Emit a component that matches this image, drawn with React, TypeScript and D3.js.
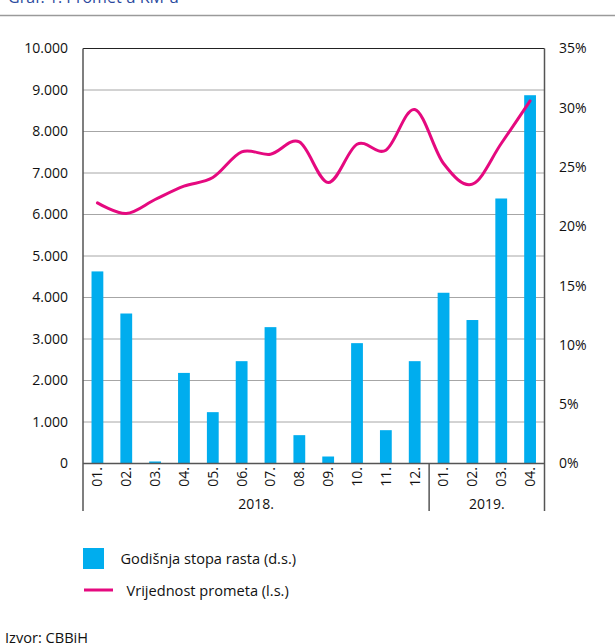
import React from "react";
import * as d3 from "d3";

const months = ["01.", "02.", "03.", "04.", "05.", "06.", "07.", "08.", "09.", "10.", "11.", "12.", "01.", "02.", "03.", "04."];
const years = [
  { label: "2018.", start: 0, end: 12 },
  { label: "2019.", start: 12, end: 16 },
];
// Godišnja stopa rasta (%), right axis
const growthRate = [16.2, 12.65, 0.17, 7.64, 4.33, 8.63, 11.5, 2.39, 0.59, 10.15, 2.81, 8.63, 14.4, 12.1, 22.35, 31.06];
// Vrijednost prometa, left axis
const turnover = [6280, 6024, 6361, 6682, 6891, 7508, 7453, 7749, 6771, 7694, 7550, 8530, 7229, 6730, 7711, 8738];
const leftTicks = [0, 1000, 2000, 3000, 4000, 5000, 6000, 7000, 8000, 9000, 10000];
const rightTicks = [0, 5, 10, 15, 20, 25, 30, 35];

const FONT = "'Open Sans', 'Noto Sans', sans-serif";
const BLUE = "#00ADEE";
const MAGENTA = "#E5097F";

export default function App() {
  const left = 83, right = 544.5, top = 48.5, bottom = 463.5;
  const yL = d3.scaleLinear().domain([0, 10000]).range([bottom, top]);
  const yR = d3.scaleLinear().domain([0, 35]).range([bottom, top]);
  const x = d3.scaleBand<number>().domain(d3.range(months.length)).range([left, right]);
  const step = x.step();
  const cx = (i: number) => (x(i) as number) + step / 2;
  const bw = 11.8;
  const line = d3.line<number>().x((_, i) => cx(i)).y((d) => yL(d)).curve(d3.curveCardinal.tension(0));
  const fmt = (v: number) => (v === 0 ? "0" : d3.format(",")(v).replace(/,/g, "."));

  return (
    <svg width={615} height={643} style={{ position: "absolute", top: 0, left: 0, fontFamily: FONT }}>
      <rect width={615} height={643} fill="#fff" />
      <text x={8} y={2.5} fontSize={16} fill="#2B4A9E" fontFamily={FONT}>Graf. 1: Promet u KM-u</text>
      <line x1={0} x2={615} y1={15.5} y2={15.5} stroke="#9a9a9a" strokeWidth={1.5} />

      {leftTicks.filter((t) => t > 0 && t < 10000).map((t) => (
        <line key={t} x1={left} x2={right} y1={yL(t)} y2={yL(t)} stroke="#a6a6a6" strokeWidth={1} />
      ))}

      {growthRate.map((v, i) => (
        <rect key={i} x={cx(i) - bw / 2} y={yR(v)} width={bw} height={bottom - yR(v)} fill={BLUE} />
      ))}

      <path d={line(turnover) || ""} fill="none" stroke={MAGENTA} strokeWidth={3} strokeLinejoin="round" strokeLinecap="round" />

      {/* frame */}
      <line x1={left} x2={right} y1={top} y2={top} stroke="#222" strokeWidth={1.2} />
      <line x1={left} x2={left} y1={top} y2={511} stroke="#555" strokeWidth={1.5} />
      <line x1={right} x2={right} y1={top} y2={511} stroke="#555" strokeWidth={1.5} />
      <line x1={left} x2={right} y1={bottom} y2={bottom} stroke="#555" strokeWidth={1.5} />
      {years.slice(1).map((y) => (
        <line key={y.label} x1={left + step * y.start} x2={left + step * y.start} y1={bottom} y2={511} stroke="#555" strokeWidth={1.5} />
      ))}

      {leftTicks.map((t) => (
        <text key={t} x={68} y={yL(t)} dy="0.35em" textAnchor="end" fontSize={14} fill="#111">{fmt(t)}</text>
      ))}
      {rightTicks.map((t) => (
        <text key={t} x={559} y={yR(t)} dy="0.35em" textAnchor="start" fontSize={14} fill="#111">{t}%</text>
      ))}

      {months.map((m, i) => (
        <text key={i} transform={`translate(${cx(i)},${467}) rotate(-90)`} dy="0.35em" textAnchor="end" fontSize={14} fill="#111">{m}</text>
      ))}
      {years.map((y) => (
        <text key={y.label} x={(left + step * y.start + left + step * y.end) / 2} y={509} textAnchor="middle" fontSize={14} fill="#111">{y.label}</text>
      ))}

      <rect x={83} y={548} width={21} height={21} fill={BLUE} />
      <text x={120.5} y={563.5} fontSize={14.6} fill="#111">Godišnja stopa rasta (d.s.)</text>
      <line x1={84} x2={113} y1={590} y2={590} stroke={MAGENTA} strokeWidth={3} />
      <text x={126.5} y={596} fontSize={14.6} fill="#111">Vrijednost prometa (l.s.)</text>

      <text x={5} y={643} fontSize={14.6} fill="#111">Izvor: CBBiH</text>
    </svg>
  );
}
